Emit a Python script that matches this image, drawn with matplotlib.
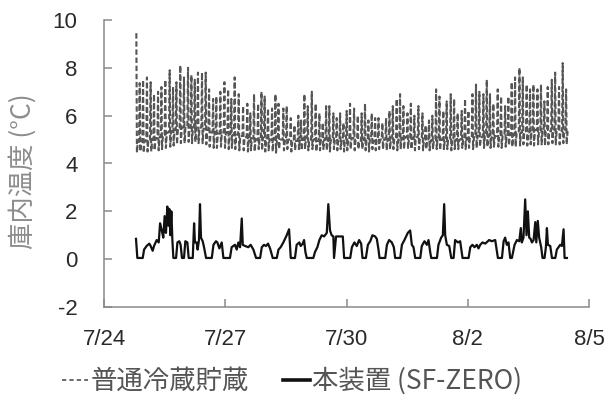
import matplotlib
matplotlib.use("Agg")
import matplotlib.pyplot as plt
from matplotlib.lines import Line2D

# ---- data (hours since 7/24 00:00) ----
# 普通冷蔵貯蔵 : cycle peaks, troughs and hovering level of each cycle
normal_peak_hours = [
    19.2, 21.2, 23.2, 25.5, 27.7, 29.7, 32.1, 34.1, 36.4, 39.0, 41.0, 43.0, 45.3,
    47.5, 49.9, 51.9, 53.9, 55.8, 58.2, 60.4, 62.4, 64.8, 66.7, 69.1, 71.5, 73.7,
    75.6, 77.6, 80.0, 82.6, 85.1, 86.9, 89.1, 91.5, 93.5, 95.4, 97.4, 99.8, 101.8,
    103.6, 106.5, 108.5, 110.9, 113.1, 115.4, 117.0, 119.0, 121.0, 123.4, 125.7,
    127.9, 129.9, 131.9, 133.8, 136.2, 138.2, 140.2, 142.2, 144.1, 146.1, 148.5,
    150.7, 153.0, 155.0, 157.0, 159.0, 161.0, 163.0, 165.3, 167.5, 169.5, 171.5,
    173.8, 175.8, 177.8, 180.2, 182.2, 184.3, 186.7,
    189.1, 191.0, 193.0, 195.0, 197.2, 199.2, 201.5, 203.5, 205.9, 207.9, 210.0,
    212.4, 214.4, 216.4, 218.8, 220.9, 222.9, 225.3, 227.3, 229.2, 231.2, 233.8,
    235.8, 238.2, 240.1, 242.1, 244.1, 246.7, 248.7, 251.0, 253.0, 255.0, 257.4,
    259.5, 261.5, 263.5, 265.9, 267.9, 270.2, 272.4, 274.4]
normal_peak_temps = [
    9.45, 7.36, 7.5, 7.6, 7.4, 6.9, 7.0, 7.2, 7.5, 7.9, 7.2, 7.4, 8.1, 7.6, 8.0,
    7.7, 7.5, 7.8, 7.8, 7.8, 7.1, 6.7, 6.8, 7.0, 7.4, 7.1, 6.7, 7.6, 6.9, 6.4, 6.5,
    6.1, 6.9, 6.5, 7.0, 6.8, 6.3, 6.3, 6.9,
    6.5, 6.3, 6.4, 5.9, 5.6, 6.0, 5.8, 6.9, 6.4, 7.0, 6.5, 6.1, 5.7, 6.4, 6.4, 6.1,
    5.9, 6.1, 5.7, 6.2, 6.5, 6.3, 6.0, 6.1, 6.5, 5.8, 6.1, 5.9, 5.9, 5.7, 5.9, 6.2,
    6.4, 6.7, 6.9, 6.4, 6.1, 6.5, 6.0, 6.4,
    6.1, 5.6, 5.8, 6.0, 7.1, 6.8, 6.2, 6.6, 6.9, 6.7, 6.1, 6.2, 6.7, 6.2, 6.9, 7.3,
    7.0, 6.9, 7.5, 6.9, 6.5, 7.1, 6.8, 6.4, 6.8, 7.4, 7.6, 8.0, 7.6, 7.3, 7.1, 7.3,
    7.1, 7.3, 6.6, 7.2, 7.5, 7.8, 7.2, 8.2, 7.1]
normal_trough_temps = [
    4.45, 4.5, 4.45, 4.5, 4.5, 4.55, 4.55, 4.6, 4.65, 4.7, 4.75, 4.8,
    4.85, 4.85, 4.9, 4.85, 4.9, 4.85, 4.85, 4.8,
    4.7, 4.65, 4.65, 4.7, 4.65, 4.6, 4.65, 4.6, 4.55,
    4.55, 4.5, 4.55, 4.5, 4.6, 4.55, 4.5, 4.55, 4.5, 4.45,
    4.6, 4.55, 4.6, 4.5, 4.55, 4.6, 4.55, 4.6, 4.55, 4.6,
    4.5, 4.55, 4.6, 4.55, 4.5, 4.6, 4.55, 4.6, 4.5, 4.55,
    4.6, 4.55, 4.6, 4.6, 4.55, 4.5, 4.6, 4.55, 4.6, 4.6,
    4.55, 4.6, 4.6, 4.55, 4.6, 4.6, 4.65, 4.6, 4.55, 4.6,
    4.55, 4.6, 4.55, 4.6, 4.6, 4.55, 4.6, 4.6, 4.55, 4.6, 4.6, 4.65, 4.6,
    4.65, 4.6, 4.65, 4.7, 4.65, 4.7, 4.65, 4.7, 4.7, 4.65, 4.7, 4.75, 4.7, 4.7,
    4.75, 4.8, 4.75, 4.8, 4.75, 4.8, 4.8, 4.75, 4.8, 4.85, 4.8, 4.8, 4.85, 4.8]
normal_band_temps = [
    4.9, 4.9, 4.95, 5.0, 5.0, 5.05, 5.1, 5.2, 5.3, 5.35, 5.4, 5.45,
    5.5, 5.55, 5.5, 5.5, 5.55, 5.5, 5.45, 5.4,
    5.3, 5.3, 5.25, 5.3, 5.3, 5.25, 5.2, 5.2, 5.15,
    5.1, 5.05, 5.05, 5.0, 5.05, 5.1, 5.05, 5.0, 5.05, 5.0,
    5.0, 4.95, 5.0, 5.0, 4.95, 5.0, 5.0, 5.05, 5.0, 5.0,
    4.95, 5.0, 5.0, 4.95, 5.0, 5.0, 4.95, 5.0, 5.0, 5.0,
    5.05, 5.0, 4.95, 5.0, 5.0, 5.0, 4.95, 5.0, 5.0, 5.0,
    5.0, 5.05, 5.05, 5.0, 5.05, 5.1, 5.05, 5.05, 5.1, 5.05,
    5.0, 5.0, 4.95, 5.0, 5.05, 5.0, 5.0, 5.05, 5.05, 5.0, 5.0, 5.05, 5.05,
    5.1, 5.1, 5.15, 5.1, 5.15, 5.15, 5.1, 5.15, 5.2, 5.15, 5.2, 5.2, 5.2, 5.25,
    5.3, 5.35, 5.3, 5.35, 5.4, 5.35, 5.35, 5.4, 5.35, 5.4, 5.4, 5.35, 5.4, 5.35]

# 本装置（SF-ZERO）
sf_hours = [
    19.0, 19.8, 23.0, 23.8, 25.3, 26.9, 27.7, 28.9, 29.7, 31.3, 32.5, 33.3, 34.3,
    35.2, 36.0, 36.8, 37.6, 38.2, 38.8, 39.4, 40.0, 40.6, 41.2, 42.8, 43.6, 44.7,
    45.5, 46.3, 47.5, 48.3, 49.5, 50.3, 52.7, 53.5, 54.0, 55.0, 55.6, 56.4, 57.0,
    57.6, 58.6, 59.4, 60.6, 64.0, 65.0, 66.5, 67.3, 68.5, 69.9, 70.9, 74.8, 75.8,
    77.8, 78.8, 79.8, 80.8, 81.8, 82.4, 83.8, 85.7, 87.1, 88.7, 90.3, 92.7, 93.7,
    95.0, 96.2, 97.4, 98.6, 100.2, 102.6, 103.6, 104.9, 106.5, 108.5, 109.9, 110.9,
    113.4, 114.4, 116.0, 116.8, 118.0, 118.8, 119.6, 120.4, 124.3, 125.3, 126.7,
    127.9, 129.3, 130.7, 132.3, 133.2, 134.2, 135.2, 136.2, 136.6, 137.8, 141.8,
    142.6, 146.2, 147.2, 148.7, 150.1, 151.5, 152.7, 153.5, 155.5, 156.7, 158.1,
    159.4, 161.0, 162.0, 163.0, 163.6, 167.0, 168.0, 169.3, 170.9, 172.1, 172.9,
    175.9, 176.9, 178.4, 180.4, 181.8, 182.8, 183.8, 184.8, 187.8, 188.7, 190.3,
    191.7, 192.7, 193.7, 194.3, 197.7, 198.6, 200.2, 201.2, 202.0, 202.6, 203.6,
    205.0, 206.2, 207.6, 208.5, 210.1, 211.5, 212.9, 216.5, 217.5, 218.8, 220.0,
    221.4, 222.4, 223.4, 224.8, 226.4, 227.9, 228.7, 230.3, 232.3, 233.9, 236.3,
    237.3, 238.2, 239.2, 240.2, 241.2, 242.2, 243.8, 245.2, 246.6, 247.5, 248.1,
    249.1, 250.1, 250.9, 251.7, 252.5, 253.3, 254.1, 255.1, 256.1, 256.7, 257.6,
    258.4, 259.6, 260.4, 261.6, 262.4, 263.0, 263.6, 265.0, 266.0, 268.0, 268.9,
    269.9, 270.9, 271.9, 272.9, 273.5, 274.9]
sf_temps = [
    0.85, 0.05, 0.05, 0.4, 0.55, 0.65, 0.55, 0.35, 0.55, 0.8, 0.7, 1.5, 1.2,
    0.9, 1.8, 1.1, 2.2, 1.4, 2.1, 1.0, 2.0, 0.8, 0.05, 0.05, 0.7, 0.75,
    0.6, 0.05, 0.05, 0.75, 0.7, 0.05, 0.05, 1.5, 0.7, 0.7, 0.4, 0.8, 2.3,
    0.9, 0.75, 0.5, 0.05, 0.05, 0.6, 0.75, 0.7, 0.45, 0.7, 0.05, 0.05, 0.5,
    0.6, 0.4, 0.7, 0.5, 1.7, 0.6, 0.55, 0.5, 0.6, 0.4, 0.05, 0.05, 0.5,
    0.6, 0.55, 0.65, 0.45, 0.05, 0.05, 0.4, 0.5, 0.7, 1.0, 1.25, 0.05,
    0.05, 0.6, 0.7, 0.55, 0.65, 0.8, 0.3, 0.05, 0.05, 0.3, 0.5,
    0.8, 1.0, 0.95, 1.1, 2.3, 1.2, 1.0, 0.95, 0.05, 0.95, 0.95,
    0.05, 0.05, 0.5, 0.7, 0.55, 0.8, 0.65, 0.05, 0.05, 0.6, 0.75,
    1.0, 0.95, 0.85, 0.4, 0.05, 0.05, 0.6, 0.8, 0.7, 0.5, 0.05,
    0.05, 0.6, 0.8, 1.1, 1.2, 0.6, 0.5, 0.05, 0.05, 0.55, 0.75,
    0.6, 0.8, 0.3, 0.05, 0.05, 0.6, 0.9, 1.0, 2.3, 1.0, 0.6,
    0.55, 0.05, 0.05, 0.8, 0.7, 0.75, 0.05, 0.05, 0.5, 0.6, 0.5,
    0.6, 0.45, 0.6, 0.7, 0.65, 0.75, 0.8, 0.75, 0.8, 0.05, 0.05,
    0.75, 0.9, 0.6, 0.7, 0.05, 0.05, 0.6, 0.8, 0.75, 1.3, 0.7,
    0.9, 2.5, 1.0, 2.0, 0.9, 0.85, 0.7, 0.8, 1.55, 0.7, 1.6,
    0.9, 0.5, 0.05, 0.05, 0.5, 1.3, 0.6, 0.55, 0.05, 0.05, 0.4,
    0.5, 0.6, 0.55, 1.25, 0.05, 0.05]

x_tick_hours = [0, 72, 144, 216, 288]
x_tick_labels = ["7/24", "7/27", "7/30", "8/2", "8/5"]
y_ticks = [-2, 0, 2, 4, 6, 8, 10]
y_label = "庫内温度 (°C)"
series_labels = ["普通冷蔵貯蔵", "本装置 (SF-ZERO)"]

# ---- build the cycle polyline of the normal storage series ----
nx, ny = [], []
n = len(normal_peak_hours)
for i in range(n):
    t = normal_peak_hours[i]
    nx += [t, t + 0.35, t + 0.9]
    ny += [normal_peak_temps[i], normal_trough_temps[i], normal_band_temps[i]]
    if i < n - 1:
        nx.append(normal_peak_hours[i + 1] - 0.4)
        ny.append(normal_band_temps[i])

# ---- figure ----
fig = plt.figure(figsize=(6.10, 3.98), dpi=100)
ax = fig.add_axes([104 / 610, 1 - 307 / 398, 485 / 610, 287 / 398])

ax.plot(nx, ny, color="#555555", lw=1.5, linestyle=(0, (2.6, 1.3)),
        solid_joinstyle="miter")
ax.plot(sf_hours, sf_temps, color="#111111", lw=1.6)

ax.set_xlim(x_tick_hours[0], x_tick_hours[-1])
ax.set_ylim(y_ticks[0], y_ticks[-1])
ax.set_xticks(x_tick_hours)
ax.set_xticklabels(x_tick_labels)
ax.set_yticks(y_ticks)
ax.set_yticklabels([str(v) for v in y_ticks])

for s in ["top", "right"]:
    ax.spines[s].set_visible(False)
for s in ["left", "bottom"]:
    ax.spines[s].set_color("#8a8a8a")
    ax.spines[s].set_linewidth(1.1)

tick_font = ["Liberation Sans", "DejaVu Sans"]
ax.tick_params(axis="both", direction="in", length=5.5, width=1.1,
               color="#8a8a8a", labelcolor="#2a2a2a", labelsize=16)
ax.tick_params(axis="y", pad=19)
ax.tick_params(axis="x", pad=16)
for lab in ax.get_xticklabels() + ax.get_yticklabels():
    lab.set_family(tick_font)

ax.set_ylabel(y_label, fontsize=19, color="#8c8c8c",
              family=["Noto Sans CJK JP", "DejaVu Sans"])
ax.yaxis.set_label_coords(-0.167, 0.472)
ax.yaxis.label.set_va("center")

handles = [
    Line2D([], [], color="#6a6a6a", lw=1.4, linestyle=(0, (2.2, 1.6))),
    Line2D([], [], color="#111111", lw=2.6),
]
leg = fig.legend(handles, series_labels, loc="center",
                 bbox_to_anchor=(292 / 610, 1 - 381 / 398), ncol=2,
                 frameon=False, handlelength=1.0, handletextpad=0.1,
                 columnspacing=1.3, borderpad=0,
                 prop={"family": ["Noto Sans CJK JP", "DejaVu Sans"], "size": 19})
for t in leg.get_texts():
    t.set_color("#555555")

fig.savefig("out.png", dpi=100)
